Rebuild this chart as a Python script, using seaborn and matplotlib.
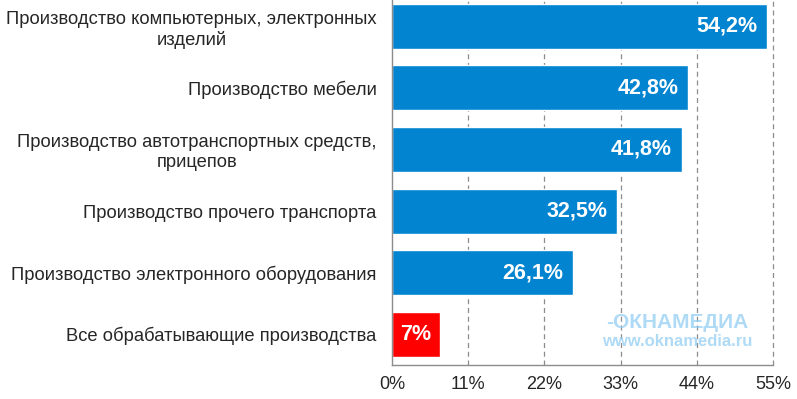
import numpy as np
import matplotlib
matplotlib.use("Agg")
import matplotlib.pyplot as plt
import seaborn as sns

# данные
categories = [
    "Производство компьютерных, электронных\nизделий",
    "Производство мебели",
    "Производство автотранспортных средств,\nприцепов",
    "Производство прочего транспорта",
    "Производство электронного оборудования",
    "Все обрабатывающие производства",
]
values = [54.2, 42.8, 41.8, 32.5, 26.1, 7.0]
bar_colors = ["#0384D0", "#0384D0", "#0384D0", "#0384D0", "#0384D0", "#FF0000"]
x_ticks = [0, 11, 22, 33, 44, 55]

sns.set_style("white")
plt.rcParams['font.family'] = ['Liberation Sans', 'DejaVu Sans']

fig = plt.figure(figsize=(7.97, 3.99), dpi=100)
ax = fig.add_axes([392 / 797, 34 / 399, 381 / 797, 369.5 / 399])

sns.barplot(x=values, y=categories, hue=categories, palette=bar_colors,
            legend=False, width=0.73, saturation=1, ax=ax)

ax.set_xlim(0, 55)
ax.set_ylim(5.5, -0.5)
ax.set_xticks(x_ticks)
ax.set_xticklabels([f"{t}%" for t in x_ticks], fontsize=13)
ax.set_xlabel("")
ax.set_ylabel("")

# сетка (пунктир)
ax.set_axisbelow(True)
for t in x_ticks[1:]:
    ax.axvline(t, linestyle=(0, (4, 3)), color="#8c8c8c", linewidth=0.9,
               zorder=0, clip_on=False)

for s in ["top", "right"]:
    ax.spines[s].set_visible(False)
for s in ["left", "bottom"]:
    ax.spines[s].set_color("#8c8c8c")
    ax.spines[s].set_linewidth(1)

# тики категорий между столбцами
ax.set_yticks(np.arange(len(categories)))
ax.set_yticklabels(categories, fontsize=13.2, multialignment="center", linespacing=1.22)
ax.set_yticks(np.arange(-0.5, len(categories), 1.0), minor=True)
ax.tick_params(axis="y", which="major", length=0, pad=11)
ax.tick_params(axis="y", which="minor", length=4, color="#8c8c8c", width=1)
ax.tick_params(axis="x", which="major", length=4, color="#8c8c8c", width=1, pad=4)

# подписи значений
for i, v in enumerate(values):
    txt = f"{v:.1f}".replace(".", ",").replace(",0", "") + "%"
    ax.annotate(txt, xy=(v, i), xytext=(-7, 0), textcoords="offset points",
                ha="right", va="center", color="white", fontsize=15.5, fontweight="bold")

# водяной знак
fig.text(677 / 797, 1 - 323 / 399, "-ОКНАМЕДИА", ha="center", va="center",
         fontsize=15, fontweight="bold", color="#8ccbf2", alpha=0.7)
fig.text(677 / 797, 1 - 342 / 399, "www.oknamedia.ru", ha="center", va="center",
         fontsize=12, fontweight="bold", color="#8ccbf2", alpha=0.7)

fig.savefig("out.png", dpi=100)
